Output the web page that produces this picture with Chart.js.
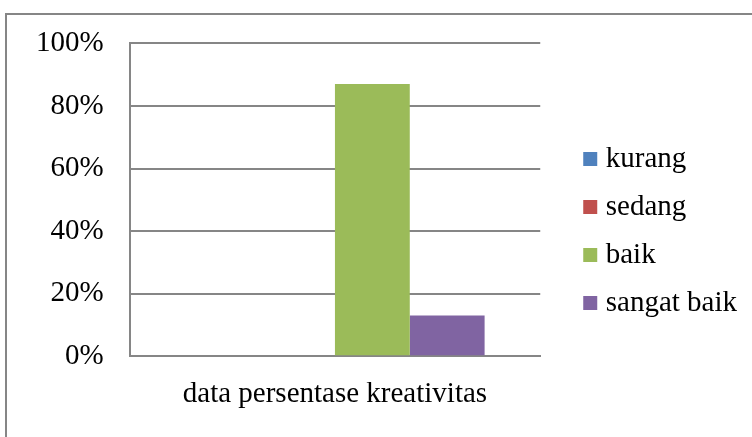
<!DOCTYPE html>
<html>
<head>
<meta charset="utf-8">
<script src="https://cdn.jsdelivr.net/npm/chart.js@4"></script>
<style>
  body { margin: 0; overflow: hidden; background: #fff; }
  #frame { position: absolute; left: 5px; top: 13px; width: 900px; height: 600px;
           border-left: 2px solid #868686; border-top: 2px solid #868686; }
  #chart-canvas { position: absolute; left: 0; top: 0; }
</style>
</head>
<body>
<div id="frame"></div>
<canvas id="chart-canvas" width="770" height="437"></canvas>
<script>
const categories = ["data persentase kreativitas"];
const kurang = [0];
const sedang = [0];
const baik = [87];
const sangatBaik = [13];
const yTicks = [0, 20, 40, 60, 80, 100];

const serif = "'Liberation Serif', 'Times New Roman', serif";
const gray = "#868686";

let ctx = document.getElementById("chart-canvas");

let kreativitasChart = new Chart(ctx, {
  type: "bar",
  data: {
    labels: categories,
    datasets: [
      { label: "kurang", data: kurang, backgroundColor: "#4F81BD" },
      { label: "sedang", data: sedang, backgroundColor: "#C0504D" },
      { label: "baik", data: baik, backgroundColor: "#9BBB59" },
      { label: "sangat baik", data: sangatBaik, backgroundColor: "#8064A2" },
    ],
  },
  options: {
    responsive: false,
    animation: false,
    datasets: {
      bar: { barPercentage: 1, categoryPercentage: 0.729, borderWidth: 0 },
    },
    layout: { padding: { left: 10, top: 43, right: 23, bottom: 12 } },
    plugins: {
      tooltip: { enabled: false },
      legend: {
        position: "right",
        align: "start",
        maxWidth: 300,
        title: { display: true, text: " ", font: { size: 12 }, padding: { top: 34, bottom: 34 } },
        labels: {
          usePointStyle: true,
          pointStyle: "rect",
          boxWidth: 2,
          boxHeight: 14,
          padding: 19,
          color: "#000",
          font: { family: serif, size: 29 },
        },
      },
    },
    scales: {
      x: {
        grid: { display: false },
        border: { color: gray, width: 2 },
        ticks: { color: "#000", padding: 13, font: { family: serif, size: 29 } },
      },
      y: {
        min: yTicks[0],
        max: yTicks[yTicks.length - 1],
        afterBuildTicks: (scale) => {
          scale.ticks = yTicks.map((v) => ({ value: v }));
        },
        ticks: {
          color: "#000",
          padding: 26,
          font: { family: serif, size: 29 },
          callback: (v) => v + "%",
        },
        grid: { color: gray, lineWidth: 2, drawTicks: false },
        border: { color: gray, width: 2 },
      },
      gap: {
        type: "linear",
        position: "right",
        grid: { display: false },
        ticks: { display: false },
        border: { display: false },
        afterFit: (scale) => {
          scale.width = 30;
        },
      },
    },
  },
});
</script>
</body>
</html>
